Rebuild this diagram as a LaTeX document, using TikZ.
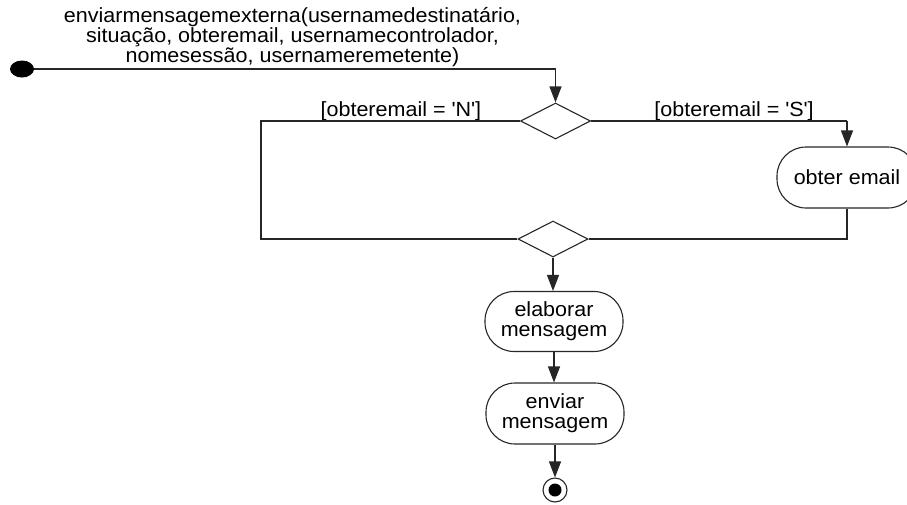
\documentclass[tikz,border=0pt]{standalone}
\usepackage{fontspec}
\setmainfont{Liberation Sans}[FakeStretch=1.05]
\usetikzlibrary{arrows.meta,shapes.geometric}
\tikzset{
  ln/.style={line width=1.1pt, draw=black!85},
  arr/.style={ln, -{Triangle[length=16pt,width=12pt]}},
  dec/.style={diamond, ln, inner sep=0pt, minimum width=70pt, minimum height=36pt},
  act/.style={rectangle, ln, rounded corners=29pt, minimum width=138pt, minimum height=60pt, inner sep=0pt, align=center, font=\fontsize{20.5}{20}\selectfont},
  lbl/.style={inner sep=0pt, anchor=base, font=\fontsize{20.5}{18.5}\selectfont, align=center}
}
\begin{document}
\begin{tikzpicture}[x=1pt,y=-1pt]
\useasboundingbox (0,0) rectangle (907,504);
% start
\node[ellipse, fill=black, minimum width=24pt, minimum height=17pt, inner sep=0pt] (start) at (22,69) {};
\coordinate (c1) at (555.5,69);
\node[dec] (d1) at (555.5,121) {};
\node[dec] (d2) at (553,239) {};
\coordinate (cl1) at (261,121);
\coordinate (cl2) at (261,239);
\coordinate (cr1) at (847,121);
\node[act, minimum width=140pt, minimum height=61pt] (obter) at (847,177.5) {obter email};
\node[act] (elab) at (554,321.5) {elaborar\\mensagem};
\node[act, minimum height=61pt] (env) at (555,413.5) {enviar\\mensagem};
\node[circle, ln, minimum size=24pt, inner sep=0pt] (end) at (555,490) {};
\node[circle, fill=black, minimum size=13pt, inner sep=0pt] (endin) at (end.center) {};
% labels
\node[lbl] (sig) at (292.5,62.5) {enviarmensagemexterna(usernamedestinatário,\\situação, obteremail, usernamecontrolador,\\nomesessão, usernameremetente)};
\node[lbl] (ln) at (400.8,116.5) {[obteremail = \textquotesingle N\textquotesingle]};
\node[lbl] (ls) at (734,116.5) {[obteremail = \textquotesingle S\textquotesingle]};
% connectors
\draw[ln] (start.east) -- (c1);
\draw[arr] (c1) -- (d1.north);
\draw[ln] (d1.west) -- (cl1) -- (cl2) -- (d2.west);
\draw[ln] (d1.east) -- (cr1);
\draw[arr] (cr1) -- (obter.north);
\draw[ln] (obter.south) |- (d2.east);
\draw[arr] (d2.south) -- (d2.south |- elab.north);
\draw[arr] (elab.south) -- (elab.south |- env.north);
\draw[arr] (env.south) -- (env.south |- end.north);
\end{tikzpicture}
\end{document}
